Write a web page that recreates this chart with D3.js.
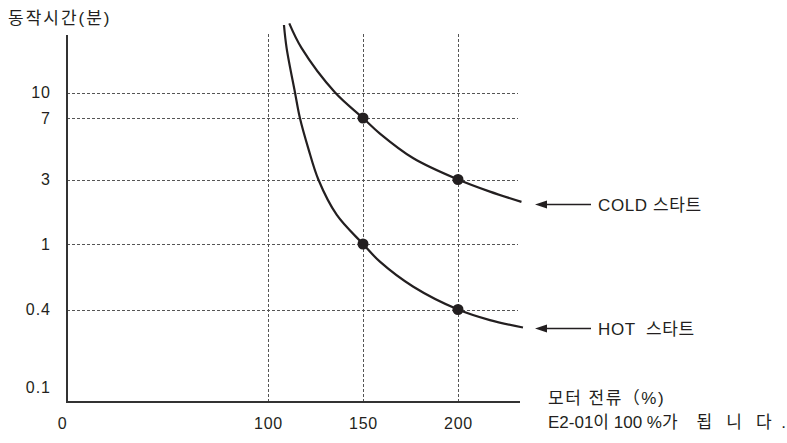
<!DOCTYPE html>
<html><head><meta charset="utf-8">
<script src="https://cdn.jsdelivr.net/npm/d3@7/dist/d3.min.js"></script>
<style>
html,body{margin:0;padding:0;background:#fff;}
svg{display:block;}
text{font-family:"Liberation Sans",Arial,"Noto Sans CJK KR",sans-serif;fill:#231f20;}
</style></head>
<body><svg id="c" width="787" height="443"></svg>
<script>
// ---- data ----
const xTicks = [0, 100, 150, 200];
const yTicks = [0.1, 0.4, 1, 3, 7, 10];
const yGrid = [0.4, 1, 3, 7, 10];
const xGrid = [100, 150, 200];
const coldX = [111.2, 117.7, 135.3, 150, 158.9, 176.5, 200, 216.8, 233.4];
const coldY = [26.3, 18.6, 10.0, 7, 5.65, 4.02, 3, 2.44, 2.05];
const hotX = [108.4, 109.8, 114.2, 116.8, 121.2, 126.5, 136.2, 150, 158.9, 176.5, 200, 216.8, 234.2];
const hotY = [25.7, 18.6, 10.0, 7.0, 4.61, 3.0, 1.64, 1, 0.781, 0.55, 0.4, 0.331, 0.290];
const coldDotsX = [150, 200], coldDotsY = [7, 3];
const hotDotsX = [150, 200], hotDotsY = [1, 0.4];
const yTitle = "동작시간(분)";
const xTitle1 = "모터 전류（%)";
const xTitle2 = "E2-01이 100 %가    됩   니   다  .";
const coldLabel = "COLD 스타트";
const hotLabel = "HOT  스타트";

// ---- layout ----
const svg = d3.select("#c");
const axX0 = 67, axX1 = 520, axY0 = 402, axYTop = 35;
const x = d3.scaleLinear().domain([0, 100, 200]).range([62, 268, 458]);
const y = d3.scaleLog().domain(yTicks).range([387, 309.5, 244, 179.5, 118, 92.5]);
const ink = "#231f20";

// grid
svg.append("g").selectAll("line").data(yGrid).join("line")
  .attr("x1", axX0).attr("x2", 518)
  .attr("y1", d => Math.round(y(d)) + 0.5).attr("y2", d => Math.round(y(d)) + 0.5)
  .attr("stroke", "#555").attr("stroke-width", 1).attr("stroke-dasharray", "3,2");
svg.append("g").selectAll("line").data(xGrid).join("line")
  .attr("y1", 34).attr("y2", axY0)
  .attr("x1", d => Math.round(x(d)) + 0.5).attr("x2", d => Math.round(x(d)) + 0.5)
  .attr("stroke", "#555").attr("stroke-width", 1).attr("stroke-dasharray", "3,2");

// axes lines
svg.append("path").attr("d", `M${axX0},${axYTop}V${axY0}H${axX1}`)
  .attr("fill", "none").attr("stroke", "#333").attr("stroke-width", 2);

// y axis labels
const gy = svg.append("g").attr("transform", `translate(${axX0 - 1},0)`)
  .call(d3.axisLeft(y).tickValues(yTicks).tickSize(0).tickPadding(15).tickFormat(d => String(d)));
gy.select(".domain").remove();
gy.attr("font-size", null).attr("font-family", null);
gy.selectAll("text").attr("font-size", 16).style("letter-spacing", "1px").attr("fill", "#231f20");

// x axis labels
const gx = svg.append("g").attr("transform", `translate(0,${axY0})`)
  .call(d3.axisBottom(x).tickValues(xTicks).tickSize(0).tickPadding(16).tickFormat(d => String(d)));
gx.select(".domain").remove();
gx.attr("font-size", null).attr("font-family", null);
gx.selectAll("text").attr("font-size", 16).style("letter-spacing", "0.8px").attr("fill", "#231f20");

// curves
const line = d3.line().x(d => x(d[0])).y(d => y(d[1])).curve(d3.curveCatmullRom.alpha(0.5));
const cold = coldX.map((v, i) => [v, coldY[i]]);
const hot = hotX.map((v, i) => [v, hotY[i]]);
[cold, hot].forEach(s => svg.append("path").attr("d", line(s))
  .attr("fill", "none").attr("stroke", ink).attr("stroke-width", 2.2));

// dots
const dots = coldDotsX.map((v, i) => [v, coldDotsY[i]]).concat(hotDotsX.map((v, i) => [v, hotDotsY[i]]));
svg.append("g").selectAll("circle").data(dots).join("circle")
  .attr("cx", d => x(d[0])).attr("cy", d => y(d[1])).attr("r", 5.5).attr("fill", ink);

// labels with arrows
function label(yy, txt) {
  svg.append("line").attr("x1", 544).attr("x2", 591).attr("y1", yy).attr("y2", yy)
    .attr("stroke", ink).attr("stroke-width", 1.3);
  svg.append("path").attr("d", `M535,${yy}L547,${yy - 4}L547,${yy + 4}Z`).attr("fill", ink);
  svg.append("text").attr("x", 598).attr("y", yy).attr("dy", "0.36em")
    .attr("font-size", 17).style("letter-spacing", "0.6px").style("white-space", "pre").text(txt);
}
label(204.5, coldLabel);
label(328.5, hotLabel);

// titles
svg.append("text").attr("x", 8).attr("y", 24).attr("font-size", 17).style("letter-spacing", "2px")
  .attr("font-family", "'Noto Sans CJK KR',sans-serif").text(yTitle);
svg.append("text").attr("x", 548).attr("y", 404).attr("font-size", 17).style("letter-spacing", "1.5px").style("white-space", "pre").text(xTitle1);
svg.append("text").attr("x", 548).attr("y", 428).attr("font-size", 17).style("white-space", "pre").text(xTitle2);
</script></body></html>
